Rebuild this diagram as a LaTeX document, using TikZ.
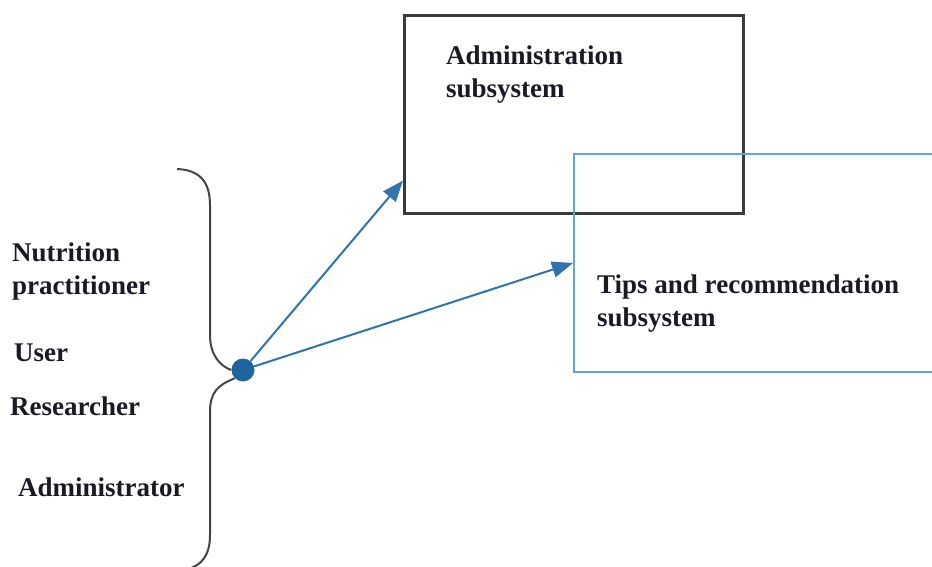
\documentclass[tikz,border=0pt]{standalone}
\usepackage{fontspec}
\setmainfont{Liberation Serif}
\usetikzlibrary{arrows.meta}
\definecolor{boxgray}{HTML}{3A3A3A}
\definecolor{boxblue}{HTML}{5DA5DA}
\definecolor{arrblue}{HTML}{2F74AD}
\definecolor{dotblue}{HTML}{1E65A0}
\definecolor{bracegray}{HTML}{454545}
\definecolor{txt}{HTML}{1A1A24}
\begin{document}
\begin{tikzpicture}[x=1pt,y=-1pt,
  lbl/.style={anchor=base west,inner sep=0pt,text=txt,font=\fontsize{27}{33}\selectfont\bfseries},
  adminbox/.style={draw=boxgray,line width=2.6pt,anchor=north west,minimum width=339pt,minimum height=198pt,inner sep=0pt},
  tipsbox/.style={draw=boxblue,line width=2.2pt,anchor=north west,minimum width=400pt,minimum height=218pt,inner sep=0pt},
  arr/.style={draw=arrblue,line width=2pt,-{Triangle[length=21pt,width=16pt]}},
  bracepath/.style={draw=bracegray,line width=2pt}]
\useasboundingbox (0,0) rectangle (932,567);
\clip (0,0) rectangle (932,567);
\fill[white] (0,0) rectangle (932,567);
% boxes
\node[adminbox] (admin) at (403,14) {};
\node[tipsbox] (tips) at (573,153) {};
% box texts
\node[lbl] (admintxt1) at (446,65) {Administration};
\node[lbl] (admintxt2) at (446,98) {subsystem};
\node[lbl] (tipstxt1) at (597,293) {Tips and recommendation};
\node[lbl] (tipstxt2) at (597,326) {subsystem};
% left labels
\node[lbl] (nut1) at (12,261) {Nutrition};
\node[lbl] (nut2) at (12,294) {practitioner};
\node[lbl] (user) at (14,361) {User};
\node[lbl] (res) at (10,415) {Researcher};
\node[lbl] (adm) at (18,496) {Administrator};
% dot
\node[circle,fill=dotblue,minimum size=23pt,inner sep=0pt] (dot) at (243,370) {};
% brace
\coordinate (bt) at (177,169);
\coordinate (bb) at (188,569);
\draw[bracepath] (bt) .. controls (200,170) and (210,182) .. (210,205)
  -- (210,335) .. controls (210,355) and (220,366) .. (dot.west);
\draw[bracepath] (dot.south west) .. controls (218,385) and (210,392) .. (210,412)
  -- (210,535) .. controls (210,555) and (202,565) .. (bb);
% arrows
\draw[arr] (dot) -- ([yshift=34pt]admin.south west);
\draw[arr] (dot) -- ([yshift=-110pt]tips.north west);
\end{tikzpicture}
\end{document}
